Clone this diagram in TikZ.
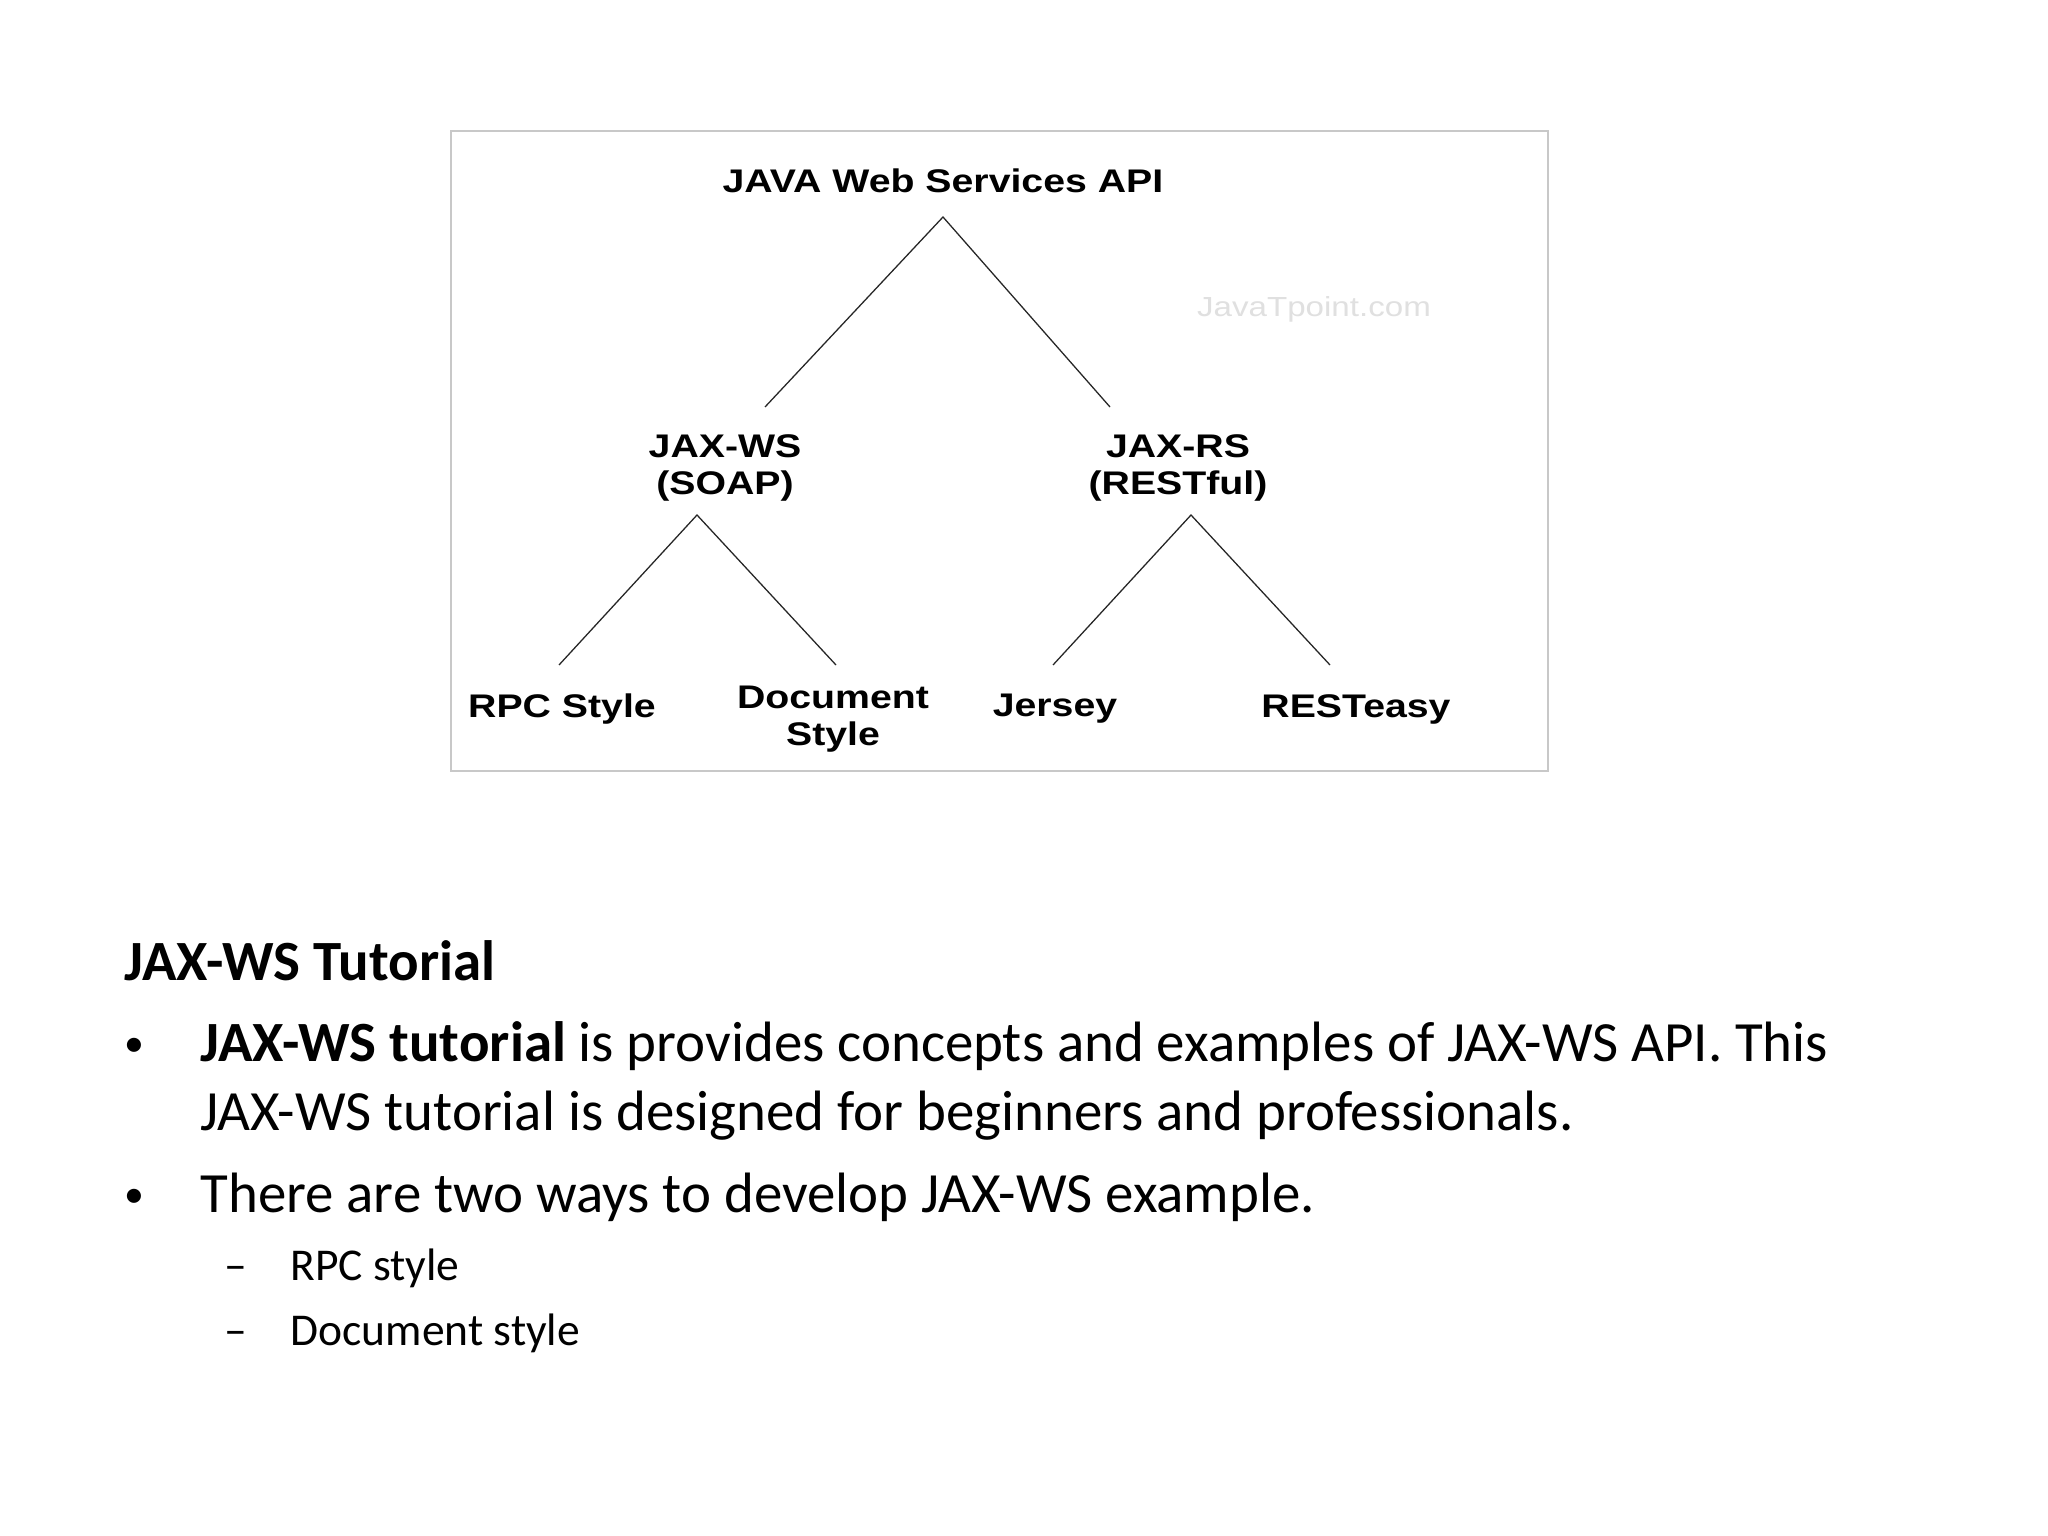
\documentclass[tikz,border=0pt]{standalone}
\usepackage{fontspec}
\setmainfont{Carlito}
\newfontfamily\diafont[FakeStretch=1.2]{Liberation Sans}
\usetikzlibrary{positioning}
\definecolor{framegray}{HTML}{C8C8C8}
\definecolor{markgray}{HTML}{E0E0E0}

\begin{document}
\begin{tikzpicture}[x=0.3515625pt,y=-0.3515625pt,
  every node/.style={inner sep=0pt},
  lbl/.style={font=\diafont\bfseries\fontsize{11.5}{13.2}\selectfont,align=center},
  branch/.style={draw=black!85,line width=0.45pt},
  bodytext/.style={anchor=base west,font=\fontsize{20}{24}\selectfont},
  subtext/.style={anchor=base west,font=\fontsize{16}{19}\selectfont},
  dotmark/.style={anchor=base west,font=\fontsize{14}{16}\selectfont}
]
\useasboundingbox[fill=white] (0,0) rectangle (2048,1536);
\draw[framegray,line width=0.7pt] (451,131) rectangle (1548,771);

% tree labels
\node[lbl] (api) at (943,181) {JAVA Web Services API};
\node[lbl] (jaxws) at (725,468) {JAX-WS\\(SOAP)};
\node[lbl] (jaxrs) at (1178,468) {JAX-RS\\(RESTful)};
\node[lbl] (rpc) at (562,709) {RPC Style};
\node[lbl] (docstyle) at (833,719) {Document\\Style};
\node[lbl] (jersey) at (1055,709) {Jersey};
\node[lbl] (resteasy) at (1356,709) {RESTeasy};
\node[font=\diafont\fontsize{9.7}{11}\selectfont,text=markgray] (mark) at (1314,309) {JavaTpoint.com};

% branch ends
\coordinate (apiTip) at (943,217);
\coordinate (wsTop) at (765,407);
\coordinate (rsTop) at (1110,407);
\coordinate (wsTip) at (697,515);
\coordinate (rpcTop) at (559,665);
\coordinate (docTop) at (836,665);
\coordinate (rsTip) at (1191,515);
\coordinate (jerseyTop) at (1053,665);
\coordinate (resteasyTop) at (1330,665);

\draw[branch] (wsTop) -- (apiTip) -- (rsTop);
\draw[branch] (rpcTop) -- (wsTip) -- (docTop);
\draw[branch] (jerseyTop) -- (rsTip) -- (resteasyTop);

% slide text
\node[bodytext] (heading) at (124,980) {\bfseries JAX-WS Tutorial};
\node[dotmark] (dotA) at (124,1056) {•};
\node[bodytext] (lineA) at (200,1061) {\textbf{JAX-WS tutorial} is provides concepts and examples of JAX-WS API. This};
\node[bodytext] (lineB) at (200,1130) {JAX-WS tutorial is designed for beginners and professionals.};
\node[dotmark] (dotB) at (124,1207) {•};
\node[bodytext] (lineC) at (200,1212) {There are two ways to develop JAX-WS example.};
\node[subtext] (dashA) at (224,1280) {–};
\node[subtext] (subA) at (290,1280) {RPC style};
\node[subtext] (dashB) at (224,1345) {–};
\node[subtext] (subB) at (290,1345) {Document style};
\end{tikzpicture}
\end{document}
